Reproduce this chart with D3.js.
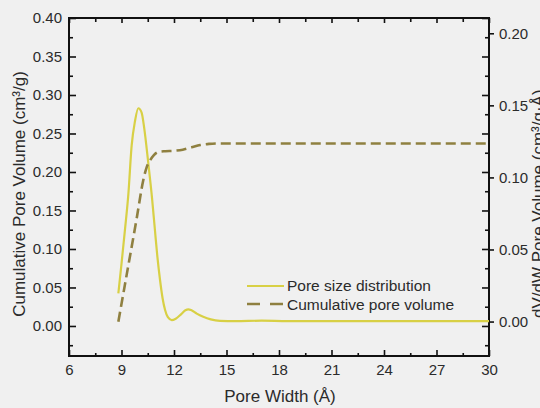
<!DOCTYPE html>
<meta charset="utf-8">
<head>
<style>
body { margin: 0; background: #f0f0f0; }
svg { display: block; background: #f0f0f0; }
text { font-family: "Liberation Sans", Arial, sans-serif; fill: #2b2b2b; }
.axis path { display: none; }
.axis line { stroke: #111; stroke-width: 1.6px; }
.axis text { font-size: 15px; }
.title { font-size: 17px; }
.legend text { font-size: 15.5px; }
</style>
</head>
<body>
<svg id="chart" width="540" height="408"></svg>
<script src="https://d3js.org/d3.v7.min.js"></script>
<script>
// pore size distribution (right axis, dV/dW)
var psdWidth = [8.82, 9.0, 9.2, 9.39, 9.58, 9.77, 9.96, 10.15, 10.3, 10.53, 10.75, 10.91, 11.05, 11.2, 11.35, 11.49, 11.65, 11.87, 12.1, 12.4, 12.65, 12.82, 13.0, 13.3, 13.67, 14.1, 14.63, 15.5, 17.0, 18.5, 22, 26, 30];
var psdValue = [0.0196, 0.040, 0.064, 0.088, 0.122, 0.139, 0.148, 0.145, 0.134, 0.110, 0.085, 0.0635, 0.045, 0.029, 0.016, 0.008, 0.003, 0.001, 0.002, 0.005, 0.0078, 0.0085, 0.0078, 0.0055, 0.0033, 0.0015, 0.0005, 0.0003, 0.0006, 0.0003, 0.0003, 0.0003, 0.0003];

// cumulative pore volume (left axis)
var cumWidth = [8.82, 9.3, 9.87, 10.25, 10.45, 10.63, 10.85, 11.1, 11.5, 12.0, 12.5, 13.0, 13.5, 14.0, 14.6, 16, 20, 25, 30];
var cumValue = [0.0056, 0.067, 0.140, 0.190, 0.207, 0.215, 0.222, 0.226, 0.227, 0.2275, 0.229, 0.232, 0.235, 0.2365, 0.237, 0.237, 0.237, 0.237, 0.237];

var xTicks = [6, 9, 12, 15, 18, 21, 24, 27, 30];
var xMinor = [7.5, 10.5, 13.5, 16.5, 19.5, 22.5, 25.5, 28.5];
var yLeftTicks = [0, 0.05, 0.10, 0.15, 0.20, 0.25, 0.30, 0.35, 0.40];
var yLeftMinor = [-0.025, 0.025, 0.075, 0.125, 0.175, 0.225, 0.275, 0.325, 0.375];
var yRightTicks = [0, 0.05, 0.10, 0.15, 0.20];

var legendLabels = ["Pore size distribution", "Cumulative pore volume"];

var svg = d3.select("#chart");
var plotL = 69, plotR = 489, plotT = 18, plotB = 356;

var x = d3.scaleLinear().domain([6, 30]).range([plotL, plotR]);
var yL = d3.scaleLinear().domain([-0.039, 0.40]).range([plotB, plotT]);
var yR = d3.scaleLinear().domain([-0.0239, 0.2106]).range([plotB, plotT]);

var fmt = d3.format(".2f");

// bottom axis
svg.append("g").attr("class", "axis")
    .attr("transform", "translate(0," + plotB + ")")
    .call(d3.axisBottom(x).tickValues(xTicks).tickSizeInner(-6).tickSizeOuter(0).tickPadding(6))
    .selectAll("text").attr("dy", "0.85em");
svg.append("g").attr("class", "axis")
    .attr("transform", "translate(0," + plotB + ")")
    .call(d3.axisBottom(x).tickValues(xMinor).tickSizeInner(-3).tickSizeOuter(0).tickFormat(""));
// top mirror
svg.append("g").attr("class", "axis")
    .attr("transform", "translate(0," + plotT + ")")
    .call(d3.axisTop(x).tickValues(xTicks).tickSizeInner(-5).tickSizeOuter(0).tickFormat(""));
svg.append("g").attr("class", "axis")
    .attr("transform", "translate(0," + plotT + ")")
    .call(d3.axisTop(x).tickValues(xMinor).tickSizeInner(-4).tickSizeOuter(0).tickFormat(""));

// left axis
svg.append("g").attr("class", "axis")
    .attr("transform", "translate(" + plotL + ",0)")
    .call(d3.axisLeft(yL).tickValues(yLeftTicks).tickSizeInner(-7).tickSizeOuter(0).tickPadding(7).tickFormat(fmt));
svg.append("g").attr("class", "axis")
    .attr("transform", "translate(" + plotL + ",0)")
    .call(d3.axisLeft(yL).tickValues(yLeftMinor).tickSizeInner(-4).tickSizeOuter(0).tickFormat(""));
// right side: mirror of left inward, own ticks outward
svg.append("g").attr("class", "axis")
    .attr("transform", "translate(" + plotR + ",0)")
    .call(d3.axisRight(yL).tickValues(yLeftTicks).tickSizeInner(-7).tickSizeOuter(0).tickFormat(""));
svg.append("g").attr("class", "axis")
    .attr("transform", "translate(" + plotR + ",0)")
    .call(d3.axisRight(yL).tickValues(yLeftMinor).tickSizeInner(-4).tickSizeOuter(0).tickFormat(""));
svg.append("g").attr("class", "axis")
    .attr("transform", "translate(" + plotR + ",0)")
    .call(d3.axisRight(yR).tickValues(yRightTicks).tickSizeInner(5).tickSizeOuter(0).tickPadding(5).tickFormat(fmt));

// frame
svg.append("rect")
    .attr("x", plotL).attr("y", plotT)
    .attr("width", plotR - plotL).attr("height", plotB - plotT)
    .attr("fill", "none").attr("stroke", "#111").attr("stroke-width", 2);

// lines
var psd = psdWidth.map(function(w, i) { return [w, psdValue[i]]; });
var cum = cumWidth.map(function(w, i) { return [w, cumValue[i]]; });

svg.append("path")
    .datum(psd)
    .attr("fill", "none")
    .attr("stroke", "#d8d045")
    .attr("stroke-width", 2.2)
    .attr("d", d3.line().curve(d3.curveMonotoneX)
      .x(function(d) { return x(d[0]); })
      .y(function(d) { return yR(d[1]); }));

svg.append("path")
    .datum(cum)
    .attr("fill", "none")
    .attr("stroke", "#8f8040")
    .attr("stroke-width", 2.6)
    .attr("stroke-dasharray", "10,5")
    .attr("d", d3.line().curve(d3.curveMonotoneX)
      .x(function(d) { return x(d[0]); })
      .y(function(d) { return yL(d[1]); }));

// legend
var legend = svg.append("g").attr("class", "legend");
legend.append("line")
    .attr("x1", 247).attr("x2", 284).attr("y1", 286).attr("y2", 286)
    .attr("stroke", "#d8d045").attr("stroke-width", 2.2);
legend.append("line")
    .attr("x1", 247).attr("x2", 284).attr("y1", 304).attr("y2", 304)
    .attr("stroke", "#8f8040").attr("stroke-width", 2.6)
    .attr("stroke-dasharray", "13,10");
legend.selectAll("text")
    .data(legendLabels)
    .enter().append("text")
    .attr("x", 287)
    .attr("y", function(d, i) { return 286 + i * 19; })
    .attr("dy", "0.35em")
    .text(function(d) { return d; });

// titles
svg.append("text").attr("class", "title")
    .attr("x", 280).attr("y", 402)
    .attr("text-anchor", "middle")
    .text("Pore Width (Å)");

svg.append("text").attr("class", "title")
    .attr("transform", "translate(25,194) rotate(-90)")
    .attr("text-anchor", "middle")
    .text("Cumulative Pore Volume (cm³/g)");

svg.append("text").attr("class", "title")
    .attr("transform", "translate(544,318) rotate(-90)")
    .attr("text-anchor", "start")
    .text("dV/dW Pore Volume (cm³/g·Å)");
</script>
</body>
